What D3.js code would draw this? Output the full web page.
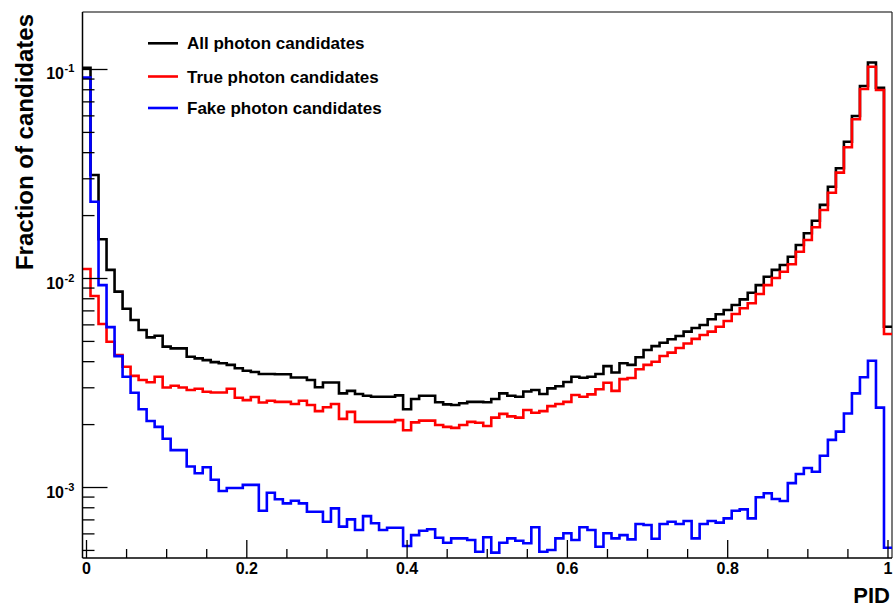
<!DOCTYPE html>
<html>
<head>
<meta charset="utf-8">
<script src="https://cdn.jsdelivr.net/npm/d3@7"></script>
<style>
  html, body { margin: 0; padding: 0; background: #fff; }
  svg { display: block; }
  text { font-family: "Liberation Sans", Arial, Helvetica, sans-serif; font-weight: bold; fill: #000; }
</style>
</head>
<body>
<svg id="chart" width="894" height="607"></svg>
<script>
// ---- data ----
const binLow = -0.005, binWidth = 0.01, nBins = 101;   // bins centred on 0.00 ... 1.00
const xTicksMajor = [0, 0.2, 0.4, 0.6, 0.8, 1];
const xTickLabels = ["0", "0.2", "0.4", "0.6", "0.8", "1"];
const yDecades = [1e-3, 1e-2, 1e-1];
const yDecadeLabels = ["-3", "-2", "-1"];
const seriesNames = ["All photon candidates", "True photon candidates", "Fake photon candidates"];
const seriesColors = ["#000000", "#ff0000", "#0000ff"];

const allPhoton = [0.102, 0.0313, 0.0154, 0.0110, 0.00865, 0.00717, 0.00633, 0.00567, 0.00523, 0.00532,
  0.00472, 0.00463, 0.00463, 0.00422, 0.00415, 0.00407, 0.00398, 0.00393, 0.00386, 0.00372,
  0.00362, 0.00357, 0.00349, 0.00349, 0.00348, 0.00348, 0.00336, 0.00336, 0.00327, 0.00302,
  0.00318, 0.00318, 0.00282, 0.0029, 0.0028, 0.00275, 0.00272, 0.00272, 0.00272, 0.00276,
  0.00237, 0.00265, 0.00275, 0.00275, 0.00256, 0.0025, 0.00248, 0.00253, 0.00257, 0.00257,
  0.00256, 0.00265, 0.00282, 0.00275, 0.00272, 0.00288, 0.00293, 0.0028, 0.00298, 0.00305,
  0.0032, 0.00339, 0.00335, 0.00339, 0.00349, 0.00381, 0.00355, 0.00393, 0.00386, 0.0042,
  0.00455, 0.00475, 0.00493, 0.00512, 0.00531, 0.00557, 0.0058, 0.00599, 0.00638, 0.00674,
  0.00707, 0.00747, 0.00795, 0.00855, 0.0093, 0.0102, 0.011, 0.0116, 0.0127, 0.01446,
  0.01646, 0.0189, 0.0225, 0.0275, 0.0337, 0.0451, 0.0599, 0.0834, 0.108, 0.0818,
  0.00588];
const truePhoton = [0.0111, 0.00825, 0.00606, 0.00498, 0.0043, 0.00378, 0.00342, 0.00327, 0.00319, 0.00339,
  0.00301, 0.00307, 0.00301, 0.00293, 0.00297, 0.00287, 0.00285, 0.00285, 0.00297, 0.00269,
  0.00262, 0.00271, 0.00255, 0.0026, 0.00257, 0.00257, 0.00251, 0.0026, 0.00248, 0.00232,
  0.00242, 0.00251, 0.00213, 0.0023, 0.00206, 0.00206, 0.00206, 0.00206, 0.00206, 0.0021,
  0.00188, 0.00205, 0.00209, 0.00209, 0.00199, 0.00195, 0.00193, 0.00199, 0.00206, 0.00204,
  0.00197, 0.00216, 0.00225, 0.00219, 0.00216, 0.00235, 0.00228, 0.00232, 0.00245, 0.00251,
  0.00257, 0.00277, 0.00272, 0.00279, 0.00295, 0.00317, 0.0029, 0.0033, 0.00334, 0.00368,
  0.00386, 0.004, 0.00426, 0.00442, 0.00465, 0.00489, 0.00514, 0.00537, 0.00557, 0.00588,
  0.00626, 0.00676, 0.0072, 0.00761, 0.00843, 0.0093, 0.01006, 0.01078, 0.0117, 0.01343,
  0.01528, 0.01758, 0.02127, 0.02574, 0.0321, 0.04245, 0.0578, 0.0807, 0.1031, 0.0798,
  0.00543];
const fakePhoton = [0.0914, 0.0233, 0.0093, 0.00585, 0.00425, 0.00339, 0.00284, 0.00237, 0.00208, 0.00195,
  0.00171, 0.00151, 0.00151, 0.00126, 0.00117, 0.00125, 0.00109, 0.000962, 0.000995, 0.000995,
  0.00103, 0.00103, 0.000774, 0.000944, 0.000878, 0.00084, 0.000865, 0.00084, 0.000766, 0.000766,
  0.000686, 0.000795, 0.00065, 0.000704, 0.000626, 0.00073, 0.000674, 0.000626, 0.000642, 0.000642,
  0.000525, 0.000592, 0.000621, 0.000631, 0.000575, 0.000544, 0.000571, 0.000571, 0.000561, 0.000493,
  0.000578, 0.000488, 0.000544, 0.000571, 0.000556, 0.000541, 0.000645, 0.000493, 0.000502, 0.000571,
  0.000604, 0.000561, 0.000645, 0.000626, 0.000521, 0.000604, 0.000571, 0.000592, 0.000565, 0.000669,
  0.000662, 0.000569, 0.000669, 0.000686, 0.000669, 0.000691, 0.000571, 0.000669, 0.000691, 0.000679,
  0.000712, 0.000774, 0.000786, 0.000712, 0.000898, 0.000938, 0.000881, 0.000862, 0.00105, 0.00116,
  0.00124, 0.00119, 0.00142, 0.00169, 0.00185, 0.00226, 0.00282, 0.00337, 0.00404, 0.00241,
  0.000515];

// ---- layout ----
const svg = d3.select("#chart");
const L = 82.5, R = 892, T = 12, B = 558;
const x = d3.scaleLinear().domain([binLow, binLow + nBins * binWidth]).range([L, R]);
const y = d3.scaleLog().domain([0.00046, 0.1884]).range([B, T]);

// frame
svg.append("line").attr("x1", L).attr("x2", R).attr("y1", T).attr("y2", T).attr("stroke", "#555").attr("stroke-width", 1.5);
svg.append("line").attr("x1", R).attr("x2", R).attr("y1", T).attr("y2", B).attr("stroke", "#222").attr("stroke-width", 1.2);

// histograms
const seriesData = [allPhoton, truePhoton, fakePhoton];
function stepPath(vals) {
  let p = d3.path();
  vals.forEach((v, i) => {
    const x0 = x(binLow + i * binWidth), x1 = x(binLow + (i + 1) * binWidth);
    const yy = y(v);
    if (i === 0) p.moveTo(x0, yy); else p.lineTo(x0, yy);
    p.lineTo(x1, yy);
  });
  return p.toString();
}
svg.append("g").selectAll("path").data(seriesData).join("path")
  .attr("d", d => stepPath(d))
  .attr("fill", "none")
  .attr("stroke", (d, i) => seriesColors[i])
  .attr("stroke-width", 2.6)
  .attr("stroke-linejoin", "miter");

// x axis
const xAxis = svg.append("g");
xAxis.append("line").attr("x1", L).attr("x2", R).attr("y1", B).attr("y2", B).attr("stroke", "#000").attr("stroke-width", 1.5);
const xMinor = d3.range(0, 21).map(i => i * 0.05);
xAxis.selectAll("line.t").data(xMinor).join("line").attr("class", "t")
  .attr("x1", d => x(d)).attr("x2", d => x(d))
  .attr("y1", B).attr("y2", d => (Math.abs(d / 0.2 - Math.round(d / 0.2)) < 1e-6) ? B - 18 : B - 9)
  .attr("stroke", "#000").attr("stroke-width", 1.3);
xAxis.selectAll("text").data(xTicksMajor).join("text")
  .attr("x", d => x(d)).attr("y", B + 16)
  .attr("text-anchor", "middle").attr("font-size", 16)
  .text((d, i) => xTickLabels[i]);
svg.append("text").attr("x", 890).attr("y", 603).attr("text-anchor", "end").attr("font-size", 22).text("PID");

// y axis
const yAxis = svg.append("g");
yAxis.append("line").attr("x1", L).attr("x2", L).attr("y1", T).attr("y2", B).attr("stroke", "#000").attr("stroke-width", 1.5);
const yMinor = [];
[1e-4, 1e-3, 1e-2, 1e-1].forEach(dec => { for (let k = 2; k <= 9; k++) { const v = k * dec; if (v >= 0.00046 && v <= 0.1884) yMinor.push(v); } });
yAxis.selectAll("line.m").data(yMinor).join("line").attr("class", "m")
  .attr("x1", L).attr("x2", L + 12).attr("y1", d => y(d)).attr("y2", d => y(d))
  .attr("stroke", "#000").attr("stroke-width", 1.3);
yAxis.selectAll("line.M").data(yDecades).join("line").attr("class", "M")
  .attr("x1", L).attr("x2", L + 25).attr("y1", d => y(d)).attr("y2", d => y(d))
  .attr("stroke", "#000").attr("stroke-width", 1.3);
const yl = yAxis.selectAll("g.lab").data(yDecades).join("g").attr("class", "lab");
yl.append("text").attr("x", 64).attr("y", d => y(d) + 10).attr("text-anchor", "end").attr("font-size", 16).text("10");
yl.append("text").attr("x", 64.5).attr("y", d => y(d) + 3).attr("text-anchor", "start").attr("font-size", 11)
  .text((d, i) => yDecadeLabels[i]);
svg.append("text").attr("transform", "translate(33,14) rotate(-90)").attr("text-anchor", "end")
  .attr("font-size", 24).text("Fraction of candidates");

// legend
const legY = [43.3, 76.5, 108];
const lg = svg.append("g").selectAll("g").data(seriesNames).join("g");
lg.append("line").attr("x1", 148).attr("x2", 178).attr("y1", (d, i) => legY[i]).attr("y2", (d, i) => legY[i])
  .attr("stroke", (d, i) => seriesColors[i]).attr("stroke-width", 2.6);
lg.append("text").attr("x", 187).attr("y", (d, i) => legY[i] + 6).attr("font-size", 17).text(d => d);
</script>
</body>
</html>
